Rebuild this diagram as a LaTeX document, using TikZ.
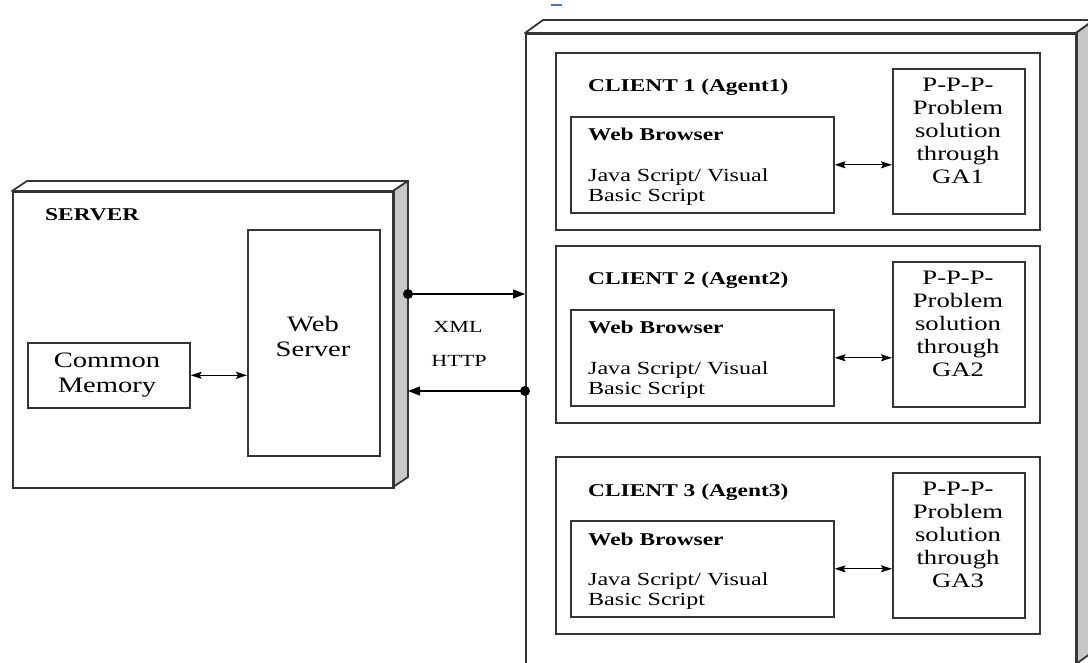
\documentclass[tikz,border=0pt]{standalone}
\usepackage{fontspec}
\setmainfont{Liberation Serif}[FakeStretch=1.3]
\usetikzlibrary{arrows.meta}
\definecolor{edge}{HTML}{353535}
\definecolor{sideface}{HTML}{C8C8C8}
\definecolor{cursor}{HTML}{4A78C0}

\begin{document}
\begin{tikzpicture}[x=1pt,y=-1pt,
  box/.style={draw=edge, line width=1.6pt, inner sep=0pt, anchor=north west},
  face/.style={draw=edge, line width=1.8pt, line join=round},
  title/.style={font=\bfseries\fontsize{18}{21}\selectfont, anchor=base west, inner sep=0pt},
  body/.style={font=\fontsize{18.5}{20}\selectfont, align=left, anchor=north west, inner sep=0pt},
  big/.style={font=\fontsize{22}{25}\selectfont, align=center, inner sep=0pt},
  solve/.style={font=\fontsize{20.5}{23}\selectfont, align=center, inner sep=0pt},
  proto/.style={font=\fontsize{17}{20}\selectfont, inner sep=0pt},
  link/.style={line width=1.3pt, {Stealth[length=11pt,width=7pt,inset=2pt]}-{Stealth[length=11pt,width=7pt,inset=2pt]}},
  wire/.style={line width=1.3pt, -{Triangle[length=12pt,width=9pt]}},
]
\useasboundingbox (0,0) rectangle (1088,663);
\clip (0,0) rectangle (1088,663);

% small blue mark near the top
\draw[cursor, line width=2pt] (551,5) -- (562,5);

% ---------------- server block ----------------
\filldraw[face, fill=white] (12,191) -- (27,181) -- (408,181) -- (393,191) -- cycle;
\filldraw[face, fill=sideface] (393,191) -- (408,181) -- (408,477) -- (393,487) -- cycle;
\node[box, line width=1.8pt, minimum width=381pt, minimum height=296pt] (srv) at (12,191) {};
\node[title] (srvt) at (45,221) {SERVER};

\node[box, minimum width=132pt, minimum height=226pt] (ws) at (247,229) {};
\node[big] (wst) at (313,336) {Web\\Server};
\node[box, minimum width=162pt, minimum height=65pt] (cm) at (27,342) {};
\node[big] (cmt) at (107,375) {Common\\Memory};
\draw[link] (cm.east) -- (cm.east -| ws.west);

% ---------------- client block ----------------
\filldraw[face, fill=white] (525,33) -- (543,20) -- (1094,20) -- (1076,33) -- cycle;
\filldraw[face, fill=sideface] (1076,33) -- (1094,20) -- (1094,651) -- (1076,664) -- cycle;
\node[box, line width=1.8pt, minimum width=551pt, minimum height=631pt] (cli) at (525,33) {};

% one client panel per agent, stacked by top edge
\foreach \n/\top in {1/52, 2/245, 3/456}{
  \node[box, minimum width=484pt, minimum height=177pt] (c\n) at (555,\top) {};
  \node[title] (c\n t) at (588,\top+40) {CLIENT \n\ (Agent\n)};
  \node[title] (wb\n t) at (588,\top+89) {Web Browser};
  \node[box, minimum width=263pt, minimum height=96pt] (wb\n) at (570,\top+64) {};
  \node[body] (wb\n s) at (588,\top+116) {Java Script/ Visual\\Basic Script};
  \node[box, minimum width=132pt, minimum height=145pt] (pp\n) at (892,\top+16) {};
  \node[solve] (pp\n t) at (958,\top+79) {P-P-P-\\Problem\\solution\\through\\GA\n};
  \draw[link] (wb\n.east) -- (wb\n.east -| pp\n.west);
}

% ---------------- protocol links ----------------
\coordinate (sOut) at (408,294);
\coordinate (cIn)  at (cli.west |- sOut);
\coordinate (cOut) at (525,391);
\coordinate (sIn)  at (408,391);
\fill (sOut) circle (5pt);
\fill (cOut) circle (5pt);
\draw[wire] (sOut) -- (cIn);
\draw[wire] (cOut) -- (sIn);
\node[proto] (xml) at (458,327) {XML};
\node[proto] (http) at (459,361) {HTTP};
\end{tikzpicture}
\end{document}
